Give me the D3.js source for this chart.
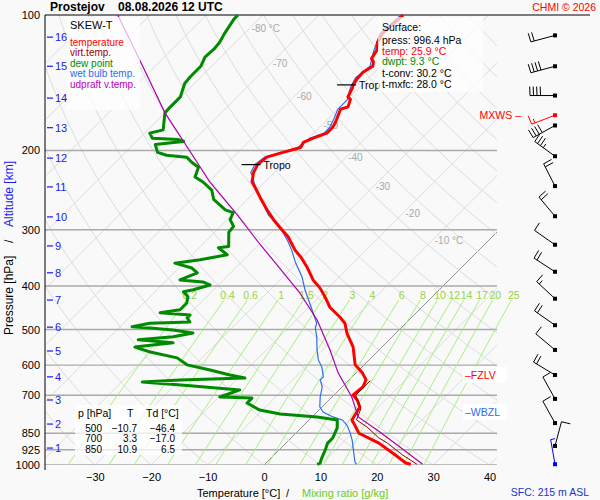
<!DOCTYPE html>
<html>
<head>
<meta charset="utf-8">
<script src="https://cdn.jsdelivr.net/npm/d3@7"></script>
<style>
  body { margin: 0; background: #f9f9f9; }
  svg { display: block; font-family: "Liberation Sans", Arial, sans-serif; }
</style>
</head>
<body>
<div id="chart"></div>
<script>
const tempP = [100,110,115,120,125,127,130,134,138,143,145,152,154,160,162,169,174,178,183,188,192,197,203,207,215,224,235,242,255,271,285,297,311,333,347,363,388,404,423,446,469,484,509,547,599,624,647,671,699,717,743,794,815,850,894,950,990,996.4];
const tempT = [-55.1,-55.5,-54.8,-53.5,-53.0,-52.1,-51.4,-52.1,-52.0,-51.6,-51.2,-50.4,-49.5,-48.6,-49.5,-48.6,-48.0,-47.7,-47.7,-49.3,-50.2,-49.8,-52.5,-54.1,-54.4,-53.7,-52.3,-50.7,-48.0,-44.7,-41.8,-39.2,-36.2,-32.6,-30.0,-27.5,-24.1,-21.5,-19.0,-16.3,-12.8,-10.8,-8.7,-5.1,-1.6,1.1,3.0,3.7,3.4,5.0,6.7,7.6,9.0,11.2,16.5,21.5,24.8,25.9];

const virtP = [650,700,750,794,823,870,894,950,996.4];
const virtT = [3.9,3.9,7.2,8.4,11.5,15.5,18.0,22.8,27.0];

const dewP = [100,102,110,115,119,124,130,137,142,152,160,165,180,183,188,189,191,192,194,202,205,207,213,218,229,235,245,257,271,275,285,295,304,327,329,341,350,356,365,374,388,392,398,408,412,423,437,452,459,464,471,481,484,493,496,501,509,519,527,535,547,561,578,599,615,631,641,647,654,667,681,706,710,728,755,770,782,794,827,871,894,926,965,990,996.4];
const dewT = [-84.4,-84.4,-83.5,-82.8,-82.6,-82.8,-81.9,-81.9,-81.7,-80.1,-80.1,-80.0,-77.3,-79.1,-77.7,-73.0,-71.6,-73.2,-76.1,-74.3,-72.2,-68.3,-66.3,-64.4,-63.3,-61.0,-58.0,-56.0,-52.1,-50.2,-49.5,-47.7,-47.5,-45.0,-46.6,-43.8,-47.7,-51.6,-47.7,-45.9,-47.7,-43.3,-41.5,-43.6,-45.0,-43.3,-42.4,-42.4,-45.4,-39.7,-39.7,-38.5,-45.4,-47.9,-44.5,-40.1,-36.0,-38.8,-44.5,-37.8,-43.8,-40.2,-34.4,-31.4,-26.4,-22.0,-18.8,-30.0,-36.3,-27.1,-17.6,-19.9,-14.0,-14.0,-10.5,-6.2,0.9,5.0,6.4,7.4,7.4,8.2,9.0,9.6,9.3];

const wbP = [100,110,120,130,138,145,154,162,169,178,183,188,197,207,215,224,229,236,249,262,278,289,303,316,333,355,382,408,452,484,496,520,555,584,606,637,647,671,706,743,763,782,794,815,845,880,985,996.4];
const wbT = [-55.5,-55.9,-54.0,-51.9,-52.4,-51.6,-50.0,-50.0,-49.1,-48.2,-48.2,-49.8,-50.3,-54.5,-54.9,-54.2,-53.0,-51.8,-49.3,-46.6,-43.6,-41.0,-38.1,-35.8,-33.2,-30.3,-26.6,-23.8,-19.0,-15.8,-15.2,-13.3,-11.0,-9.0,-7.1,-5.1,-5.1,-3.5,-2.1,-0.4,1.1,3.7,5.9,7.6,9.4,11.2,15.6,16.3];

const upP = [100,130,165,191,235,278,324,350,415,476,555,624,706,782,845,912,996.4];
const upT = [-105.7,-92.2,-80.0,-71.6,-59.8,-49.1,-39.7,-34.8,-24.1,-16.3,-8.7,-3.2,3.5,8.2,14.7,20.9,28.0];

const windP   = [111,130,151,167,176,206,240,280,324,372,427,489,555,631,713,807,907,996];
const windDir = [255,255,270,249,241,306,333,320,305,303,313,305,310,301,331,331,15,350];
const windKt  = [20,40,40,15,40,35,20,20,10,20,15,20,10,20,10,10,10,5];
const mxwsIndex = 3;

const pressTicks = [100,200,300,400,500,600,700,850,925,1000];
const tempTicks = [-30,-20,-10,0,10,20,30,40];
const altKm = [1,2,3,4,5,6,7,8,9,10,11,12,13,14,15,16];
const altP = [917,811,717,637,558,494,430,374,326,281,241,208,178,153,130,112];
const mixRatios = [0.2,0.4,0.6,1,1.5,2,3,4,6,8,10,12,14,17,20,25];
const isoLabelT = [-80,-70,-60,-50,-40,-30,-20,-10];
const isoLabelP = [107,128,151,176,207,240,275,316];

const tropP = [143,215];
const tropT = [-51.6,-54.4];
const tropName = ["Trop","Tropo"];

const tableP = [500,700,850];
const tableT = [-10.7,3.3,10.9];
const tableTd = [-46.4,-17.0,6.5];

const sfcPress = 996.4, sfcTemp = 25.9, sfcDwpt = 9.3, tConv = 30.2, tMxfc = 28.0;
const fzlvP = 630, wbzlP = 762;

// ---- setup ----
const W = 600, H = 500;
const plotL = 45, plotR = 497, plotT = 15, plotB = 465;
const svg = d3.select("#chart").append("svg").attr("width", W).attr("height", H);

const y = d3.scaleLog().domain([1000, 100]).range([plotB, plotT]);
const x = d3.scaleLinear().domain([-30, 40]).range([94.8, 489.6]);
const sx = (t, p) => x(t) + (y(1000) - y(p));

svg.append("defs").append("clipPath").attr("id", "plot")
  .append("rect").attr("x", plotL).attr("y", plotT).attr("width", plotR - plotL).attr("height", plotB - plotT);

const grid = svg.append("g").attr("clip-path", "url(#plot)");
const line = d3.line().x(d => sx(d[1], d[0])).y(d => y(d[0]));

// isotherms
d3.range(-170, 60, 10).forEach(t => {
  grid.append("line")
    .attr("x1", sx(t, 1000)).attr("y1", y(1000))
    .attr("x2", sx(t, 100)).attr("y2", y(100))
    .attr("stroke", t === 0 ? "#777" : "#dcdcdc")
    .attr("stroke-width", t === 0 ? 0.8 : 1);
});

// dry adiabats
const pSteps = d3.range(1000, 95, -10);
d3.range(-40, 230, 10).forEach(th => {
  const pts = pSteps.map(p => [p, (th + 273.15) * Math.pow(p / 1000, 0.2857) - 273.15]);
  grid.append("path").attr("d", line(pts)).attr("fill", "none")
    .attr("stroke", "#dcdcdc").attr("stroke-width", 1);
});

// mixing ratio lines
const mixT = (w, p) => {
  const l = Math.log((w * p / (622 + w)) / 6.112);
  return 243.5 * l / (17.67 - l);
};
const mixG = svg.append("g");
mixRatios.forEach(w => {
  const pts = d3.range(1000, 425, -10).map(p => [p, mixT(w, p)]);
  mixG.append("path").attr("d", line(pts)).attr("fill", "none")
    .attr("stroke", "#a6ef7c").attr("stroke-width", 1);
  mixG.append("text").attr("x", sx(mixT(w, 420), 420)).attr("y", y(420) + 4)
    .attr("text-anchor", "middle").attr("font-size", 10.5).attr("fill", "#94d63a")
    .text(w);
});

// pressure lines
grid.selectAll(".pl").data(pressTicks.filter(p => p !== 100)).enter().append("line")
  .attr("x1", plotL).attr("x2", plotR)
  .attr("y1", d => y(d)).attr("y2", d => y(d))
  .attr("stroke", "#aaa").attr("stroke-width", 1.4);

svg.append("line").attr("x1", plotL).attr("x2", 590).attr("y1", y(100)).attr("y2", y(100))
  .attr("stroke", "#000").attr("stroke-width", 1);

// isotherm labels
isoLabelT.forEach((t, i) => {
  const p = isoLabelP[i];
  svg.append("text").attr("x", sx(t, p) + 2).attr("y", y(p) + 4)
    .attr("font-size", 10).attr("fill", "#a8a8a8")
    .text(t + ((i === 0 || i === isoLabelT.length - 1) ? " °C" : ""));
});

// axes
const yAxis = svg.append("g").attr("transform", `translate(${plotL},0)`)
  .call(d3.axisLeft(y).tickValues(pressTicks).tickFormat(d3.format("d")).tickSize(0).tickPadding(5));
yAxis.select(".domain").attr("stroke", "#000").attr("d", `M0,${plotT}V${plotB + 5}`);
yAxis.selectAll("text").attr("font-size", 11).attr("fill", "#000");
yAxis.attr("font-family", null);

const xAxis = svg.append("g").attr("transform", `translate(0,${plotB})`)
  .call(d3.axisBottom(x).tickValues(tempTicks).tickSize(0).tickPadding(8));
xAxis.select(".domain").remove();
xAxis.selectAll("text").attr("font-size", 11).attr("fill", "#000");
xAxis.attr("font-family", null);

// altitude ticks
altKm.forEach((k, i) => {
  const yy = y(altP[i]);
  svg.append("line").attr("x1", 47).attr("x2", 53).attr("y1", yy).attr("y2", yy)
    .attr("stroke", "#1a1aee").attr("stroke-width", 1.2);
  svg.append("text").attr("x", 55).attr("y", yy + 4).attr("font-size", 11)
    .attr("fill", "#1a1aee").text(k);
});

// ---- profiles ----
const prof = (P, T) => d3.zip(P, T);
svg.append("path").attr("d", line(prof(wbP, wbT))).attr("fill", "none")
  .attr("stroke", "#2c6cf0").attr("stroke-width", 1.2);
svg.append("path").attr("d", line(prof(dewP, dewT))).attr("fill", "none")
  .attr("stroke", "#008a00").attr("stroke-width", 3).attr("stroke-linejoin", "round");
svg.append("path").attr("d", line(prof(tempP, tempT))).attr("fill", "none")
  .attr("stroke", "#ff0000").attr("stroke-width", 3).attr("stroke-linejoin", "round");
svg.append("path").attr("d", line(prof(virtP, virtT))).attr("fill", "none")
  .attr("stroke", "#990000").attr("stroke-width", 1);
svg.append("path").attr("d", line(prof(upP, upT))).attr("fill", "none")
  .attr("stroke", "#aa00aa").attr("stroke-width", 1.2);

// tropopause marks
tropP.forEach((p, i) => {
  const xx = sx(tropT[i], p);
  svg.append("line").attr("x1", xx - 16).attr("x2", xx + 3).attr("y1", y(p)).attr("y2", y(p))
    .attr("stroke", "#000").attr("stroke-width", 1.2);
  svg.append("text").attr("x", xx + 6).attr("y", y(p) + 4).attr("font-size", 10.5).text(tropName[i]);
});

// ---- boxes ----
const box = (bx, by, bw, bh, op) => svg.append("rect").attr("x", bx).attr("y", by)
  .attr("width", bw).attr("height", bh).attr("fill", "#fff").attr("fill-opacity", op);

box(67, 17, 73, 93, 0.7);
const legend = [["SKEW-T", "#000"], ["temperature", "#ff0000"], ["virt.temp.", "#a00000"],
  ["dew point", "#008a00"], ["wet bulb temp.", "#2c6cf0"], ["udpraft v.temp.", "#bb00bb"]];
legend.forEach((d, i) => {
  svg.append("text").attr("x", 70).attr("y", i === 0 ? 29 : 35 + i * 10.5)
    .attr("font-size", i === 0 ? 11 : 10).attr("fill", d[1]).text(d[0]);
});

box(378, 17, 105, 75, 0.7);
const sfc = [["Surface:", "#000", 31], [`press: ${sfcPress.toFixed(1)} hPa`, "#000", 44],
  [`temp: ${sfcTemp.toFixed(1)} °C`, "#ff0000", 54.5], [`dwpt: ${sfcDwpt.toFixed(1)} °C`, "#008a00", 65],
  [`t-conv: ${tConv.toFixed(1)} °C`, "#000", 77], [`t-mxfc: ${tMxfc.toFixed(1)} °C`, "#000", 88]];
sfc.forEach(d => svg.append("text").attr("x", 382).attr("y", d[2]).attr("font-size", 10.5)
  .attr("fill", d[1]).text(d[0]));

box(75, 405, 107, 50, 0.75);
svg.append("text").attr("x", 78).attr("y", 417).attr("font-size", 10.5).text("p [hPa]");
svg.append("text").attr("x", 127).attr("y", 417).attr("font-size", 10.5).text("T");
svg.append("text").attr("x", 146).attr("y", 417).attr("font-size", 10.5).text("Td [°C]");
const f1 = d3.format(".1f");
tableP.forEach((p, i) => {
  const yy = 431.5 + i * 10.5;
  svg.append("text").attr("x", 102).attr("y", yy).attr("text-anchor", "end").attr("font-size", 10).text(p);
  svg.append("text").attr("x", 137).attr("y", yy).attr("text-anchor", "end").attr("font-size", 10).text(f1(tableT[i]));
  svg.append("text").attr("x", 175).attr("y", yy).attr("text-anchor", "end").attr("font-size", 10).text(f1(tableTd[i]));
});

// level labels
box(463, y(fzlvP) - 8, 44, 16, 1);
svg.append("text").attr("x", 465).attr("y", y(fzlvP) + 4).attr("font-size", 10.5)
  .attr("fill", "#ff0000").text("–FZLV");
box(463, y(wbzlP) - 8, 44, 16, 1);
svg.append("text").attr("x", 465).attr("y", y(wbzlP) + 4).attr("font-size", 10.5)
  .attr("fill", "#2c6cf0").text("–WBZL");

// ---- wind barbs ----
const wx = 555, staff = 25;
const rot = 88 * Math.PI / 180;
windP.forEach((p, i) => {
  const col = i === mxwsIndex ? "#ff0000" : (i === windP.length - 1 ? "#0000ff" : "#000");
  const cy = y(p);
  const a = windDir[i] * Math.PI / 180;
  const ux = Math.sin(a), uy = -Math.cos(a);
  const ex = wx + staff * ux, ey = cy + staff * uy;
  const bx = ux * Math.cos(rot) - uy * Math.sin(rot);
  const by = ux * Math.sin(rot) + uy * Math.cos(rot);
  const g = svg.append("g").attr("stroke", col).attr("stroke-width", 1);
  g.append("line").attr("x1", wx).attr("y1", cy).attr("x2", ex).attr("y2", ey);
  let kt = windKt[i], k = 0;
  while (kt >= 10) {
    const px = ex - k * 3.5 * ux, py = ey - k * 3.5 * uy;
    g.append("line").attr("x1", px).attr("y1", py).attr("x2", px + 9 * bx).attr("y2", py + 9 * by);
    kt -= 10; k++;
  }
  if (kt >= 5) {
    const px = ex - k * 3.5 * ux, py = ey - k * 3.5 * uy;
    g.append("line").attr("x1", px).attr("y1", py).attr("x2", px + 4.5 * bx).attr("y2", py + 4.5 * by);
  }
  svg.append("rect").attr("x", wx - 2).attr("y", cy - 2).attr("width", 4).attr("height", 4).attr("fill", col);
});
svg.append("text").attr("x", 521).attr("y", y(windP[mxwsIndex]) + 4).attr("text-anchor", "end")
  .attr("font-size", 10.5).attr("fill", "#ff0000").text("MXWS –");

// ---- titles ----
svg.append("text").attr("x", 50).attr("y", 11).attr("font-size", 12).attr("font-weight", "bold")
  .attr("xml:space", "preserve").text("Prostejov    08.08.2026 12 UTC");
svg.append("text").attr("x", 596).attr("y", 11).attr("text-anchor", "end").attr("font-size", 10.5)
  .attr("fill", "#ff0000").text("CHMI © 2026");

const xt = svg.append("text").attr("y", 497).attr("font-size", 11);
xt.append("tspan").attr("x", 197).text("Temperature [°C]");
xt.append("tspan").attr("x", 286).text("/");
xt.append("tspan").attr("x", 302).attr("fill", "#66cc22").text("Mixing ratio [g/kg]");

const yt = svg.append("g").attr("transform", "translate(13,0) rotate(-90)");
yt.append("text").attr("x", -335).attr("font-size", 12).text("Pressure [hPa]");
yt.append("text").attr("x", -243).attr("font-size", 12).text("/");
yt.append("text").attr("x", -227).attr("font-size", 12).attr("fill", "#1a1aee").text("Altitude [km]");

svg.append("text").attr("x", 589).attr("y", 496).attr("text-anchor", "end").attr("font-size", 10.5)
  .attr("fill", "#2233cc").text("SFC: 215 m ASL");
</script>
</body>
</html>
